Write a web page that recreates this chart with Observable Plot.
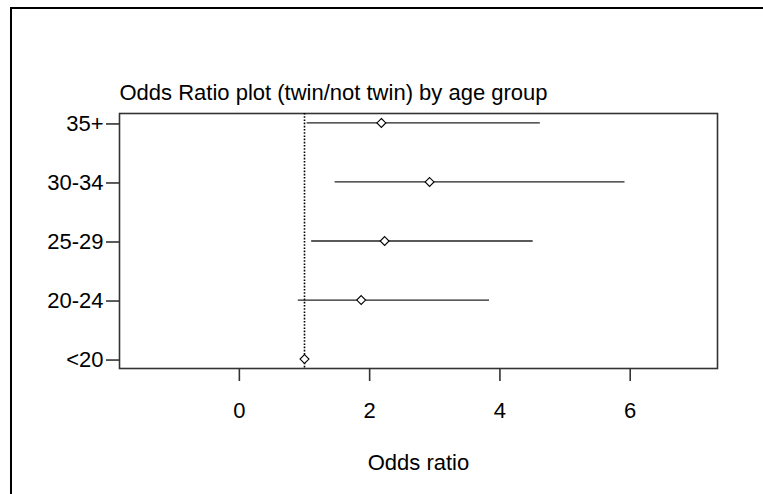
<!DOCTYPE html>
<html>
<head>
<meta charset="utf-8">
<script src="https://cdn.jsdelivr.net/npm/d3@7"></script>
<script src="https://cdn.jsdelivr.net/npm/@observablehq/plot@0.6"></script>
<style>
  html, body { margin: 0; padding: 0; background: white; width: 763px; height: 494px; overflow: hidden; }
  #wrap { position: relative; width: 763px; height: 494px; overflow: hidden; }
  #chart { position: absolute; left: 0; top: 0; }
  .bline { position: absolute; background: #000; pointer-events: none; }
  #btop { left: 10px; top: 7px; width: 753px; height: 2px; }
  #bleft { left: 10px; top: 7px; width: 2px; height: 487px; }
</style>
</head>
<body>
<div id="wrap"><div id="chart"></div><div class="bline" id="btop"></div><div class="bline" id="bleft"></div></div>
<script>
const groups = ["35+", "30-34", "25-29", "20-24", "<20"];
const estimate = [2.18, 2.92, 2.23, 1.87, 1.0];
const lower = [1.04, 1.47, 1.11, 0.905, null];
const upper = [4.62, 5.92, 4.51, 3.84, null];
const xTicks = [0, 2, 4, 6];
const reference = [1];
const title = "Odds Ratio plot (twin/not twin) by age group";
const xLabel = "Odds ratio";

const data = groups.map((g, i) => ({group: g, est: estimate[i], lo: lower[i], hi: upper[i]}));
const ci = data.filter(d => d.lo != null && d.hi != null);

const font = "Liberation Sans, Arial, Helvetica, sans-serif";
const ink = "#222";

const plot = Plot.plot({
  width: 763,
  height: 494,
  marginLeft: 119,
  marginRight: 46,
  marginTop: 113,
  marginBottom: 126,
  style: {fontFamily: font, fontSize: "22px", color: "#000", background: "transparent", overflow: "visible"},
  x: {domain: [-1.84, 7.34]},
  y: {domain: groups, type: "point", padding: 0.16, round: false},
  marks: [
    Plot.frame({stroke: "#333", strokeWidth: 1.6}),
    Plot.ruleX(reference, {stroke: "#000", strokeWidth: 1.6, strokeDasharray: "1.6,1.6"}),
    Plot.ruleY(ci, {y: "group", x1: "lo", x2: "hi", stroke: ink, strokeWidth: 1.3}),
    Plot.dot(data, {x: "est", y: "group", symbol: "diamond2", r: 4, stroke: "#000", fill: "white", strokeWidth: 1.1}),
    Plot.axisX(xTicks, {tickSize: 13, tickPadding: 21, fontSize: 22, stroke: "#333", strokeWidth: 1.6, label: null, fill: "#000"}),
    Plot.axisY({tickSize: 13, tickPadding: 3, fontSize: 22, stroke: "#333", strokeWidth: 1.6, label: null, fill: "#000", dy: 1}),
    Plot.text([xLabel], {frameAnchor: "bottom", lineAnchor: "middle", dy: 94, fontSize: 22, fill: "#000"}),
    Plot.text([title], {frameAnchor: "top-left", textAnchor: "start", lineAnchor: "middle", dy: -20.5, fontSize: 22, fill: "#000"})
  ]
});
document.getElementById("chart").appendChild(plot);
</script>
</body>
</html>
